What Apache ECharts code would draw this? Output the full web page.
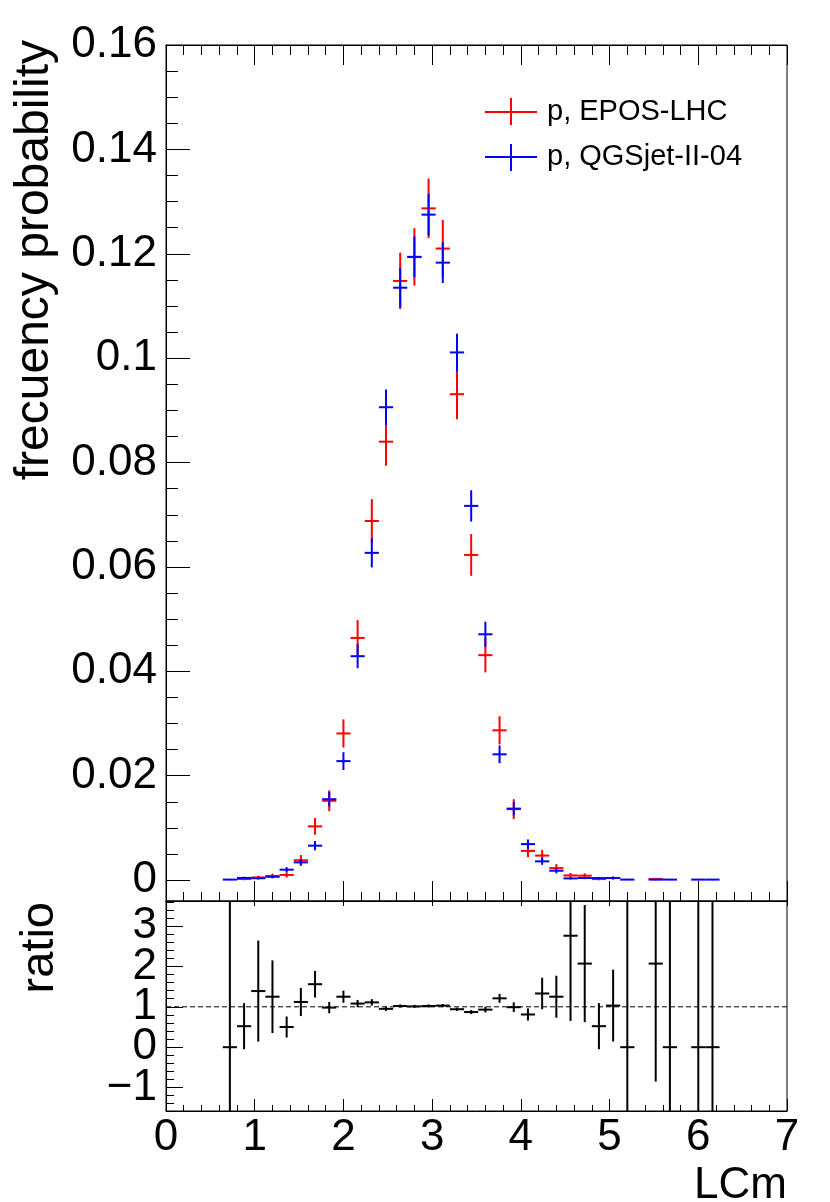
<!DOCTYPE html>
<html>
<head>
<meta charset="utf-8">
<script src="https://cdn.jsdelivr.net/npm/echarts@6/dist/echarts.min.js"></script>
<style>
html,body{margin:0;padding:0;background:#fff;}
#chart{width:830px;height:1202px;}
</style>
</head>
<body>
<div id="chart"></div>
<script>
// ---- data ----
const binCenters = [0.72,0.88,1.04,1.20,1.36,1.52,1.68,1.84,2.00,2.16,2.32,2.48,2.64,2.80,2.96,3.12,3.28,3.44,3.60,3.76,3.92,4.08,4.24,4.40,4.56,4.72,4.88,5.04,5.20,5.36,5.52,5.68,5.84,6.00,6.16];
const binHalfWidth = 0.08;
const eposValues = [null,0.00022,0.0005,0.0008,0.0010,0.0038,0.0103,0.0152,0.0281,0.0464,0.0688,0.0840,0.1148,0.1194,0.1287,0.1210,0.0931,0.0623,0.0431,0.0287,0.0136,0.0056,0.0047,0.0023,0.0009,0.00085,0.0002,0.0004,null,null,0.0002,null,null,null,null];
const eposErrors = [null,0.00024,0.00036,0.00045,0.0005,0.001,0.0016,0.002,0.0027,0.0034,0.0042,0.0046,0.0054,0.0055,0.0057,0.0055,0.0048,0.004,0.0033,0.0027,0.0019,0.0012,0.0011,0.00076,0.00048,0.00046,0.00022,0.00032,null,null,0.00022,null,null,null,null];
const qgsValues = [0.0001,0.00042,0.00036,0.00064,0.0020,0.0034,0.0066,0.0155,0.0228,0.0429,0.0627,0.0906,0.1135,0.1194,0.1275,0.1183,0.1011,0.0717,0.0471,0.0241,0.0137,0.0069,0.0036,0.0018,0.00033,0.00041,0.0004,0.0004,0.0001,null,0.0001,0.0001,null,0.0001,0.0001];
const qgsErrors = [0.00011,0.00023,0.00021,0.00028,0.0005,0.00065,0.0009,0.0014,0.0017,0.0023,0.0028,0.0034,0.0038,0.0039,0.004,0.0039,0.0036,0.003,0.0024,0.0017,0.0013,0.0009,0.00067,0.00048,0.0002,0.00023,0.00022,0.00022,0.00011,null,0.00011,0.00011,null,0.00011,0.00011];
const ratioValues = [0,0.52,1.39,1.25,0.5,1.12,1.56,0.98,1.25,1.08,1.11,0.95,1.02,1.01,1.02,1.03,0.94,0.87,0.93,1.21,0.99,0.81,1.33,1.25,2.76,2.07,0.52,1.03,0,null,2.07,0,null,0,0];
const ratioErrors = [10,0.57,1.25,0.9,0.26,0.35,0.33,0.14,0.15,0.09,0.08,0.05,0.04,0.04,0.04,0.04,0.04,0.05,0.07,0.11,0.12,0.15,0.39,0.52,2.11,1.45,0.57,0.89,10,null,2.92,10,null,10,10];
const ratioRefValue = 1;
const yTicksTop = [0,0.02,0.04,0.06,0.08,0.1,0.12,0.14,0.16];
const yTicksRatio = [-1,0,1,2,3];
const legendNames = ['p, EPOS-LHC','p, QGSjet-II-04'];
const xTitle = 'LCm';
const yTitleTop = 'frecuency probability';
const yTitleRatio = 'ratio';

// minor tick positions
const yMinorTop = [];
for (let i = 0; i <= 32; i++) if (i % 4) yMinorTop.push(+(i * 0.005).toFixed(3));
const yMinorRatio = [];
for (let i = -7; i <= 18; i++) if (i % 5) yMinorRatio.push(+(i * 0.2).toFixed(2));
// ratio labels split in two alternating sets so none gets hidden for overlap
const ratioLabelsA = yTicksRatio.filter((v, i) => i % 2 === 0);
const ratioLabelsB = yTicksRatio.filter((v, i) => i % 2 === 1);

function buildData(vals, errs) {
  const out = [];
  for (let i = 0; i < binCenters.length; i++) {
    if (vals[i] === null || vals[i] === undefined) continue;
    out.push([binCenters[i], vals[i], errs[i]]);
  }
  return out;
}

function crossRenderer(color, width) {
  return function (params, api) {
    const x = api.value(0), y = api.value(1), e = api.value(2);
    const cs = params.coordSys;
    const clampY = v => Math.max(cs.y, Math.min(cs.y + cs.height, v));
    const clampX = v => Math.max(cs.x, Math.min(cs.x + cs.width, v));
    const pl = api.coord([x - binHalfWidth, y]);
    const pr = api.coord([x + binHalfWidth, y]);
    const pt = api.coord([x, y + e]);
    const pb = api.coord([x, y - e]);
    const children = [];
    if (pl[1] >= cs.y && pl[1] <= cs.y + cs.height) {
      children.push({type: 'line', shape: {x1: clampX(pl[0]), y1: pl[1], x2: clampX(pr[0]), y2: pr[1]}, style: {stroke: color, lineWidth: width}});
    }
    children.push({type: 'line', shape: {x1: pt[0], y1: clampY(pt[1]), x2: pb[0], y2: clampY(pb[1])}, style: {stroke: color, lineWidth: width}});
    return {type: 'group', children: children};
  };
}

const FONT = 'Liberation Sans, Arial, Helvetica, sans-serif';
const chart = echarts.init(document.getElementById('chart'), null, {renderer: 'canvas'});

const gridTop = {left: 166, top: 45, width: 621, height: 856};
const gridBot = {left: 166, top: 901, width: 621, height: 210};

const baseX = {
  min: 0, max: 7, interval: 1, type: 'value',
  axisLine: {show: true, onZero: false, lineStyle: {color: '#000', width: 1}},
  splitLine: {show: false}
};
const ratioLabelStyle = {show: true, color: '#000', fontSize: 44, fontFamily: FONT, margin: 9,
  hideOverlap: false, showMinLabel: true, showMaxLabel: true,
  formatter: v => String(v).replace('-', '\u2212')};

const option = {
  animation: false,
  backgroundColor: '#fff',
  grid: [
    Object.assign({show: true, borderColor: '#000', borderWidth: 1, backgroundColor: 'transparent'}, gridTop),
    Object.assign({show: true, borderColor: '#000', borderWidth: 1, backgroundColor: 'transparent'}, gridBot)
  ],
  xAxis: [
    Object.assign({}, baseX, {gridIndex: 0, position: 'bottom',
      axisTick: {show: true, inside: true, length: 20, lineStyle: {color: '#000'}},
      minorTick: {show: true, splitNumber: 5, length: 9, lineStyle: {color: '#000'}},
      axisLabel: {show: false}}),
    Object.assign({}, baseX, {gridIndex: 0, position: 'top',
      axisTick: {show: true, inside: true, length: 20, lineStyle: {color: '#000'}},
      minorTick: {show: true, splitNumber: 5, length: 10, lineStyle: {color: '#000'}},
      axisLabel: {show: false}}),
    Object.assign({}, baseX, {gridIndex: 1, position: 'bottom',
      axisTick: {show: true, inside: true, length: 12, lineStyle: {color: '#000'}},
      minorTick: {show: true, splitNumber: 5, length: 6, lineStyle: {color: '#000'}},
      axisLabel: {show: true, color: '#000', fontSize: 44, fontFamily: FONT, margin: 5, hideOverlap: false}}),
    Object.assign({}, baseX, {gridIndex: 1, position: 'top',
      axisTick: {show: true, inside: true, length: 5, lineStyle: {color: '#000'}},
      minorTick: {show: false},
      axisLabel: {show: false}})
  ],
  yAxis: [
    {gridIndex: 0, type: 'value', min: -0.004, max: 0.16, position: 'left',
      axisLine: {show: true, onZero: false, lineStyle: {color: '#000'}},
      splitLine: {show: false},
      axisTick: {show: true, inside: true, length: 24, customValues: yTicksTop, lineStyle: {color: '#000'}},
      axisLabel: {show: true, customValues: yTicksTop, color: '#000', fontSize: 44, fontFamily: FONT, margin: 9,
        hideOverlap: false, showMinLabel: true, showMaxLabel: true, formatter: v => String(v)}},
    {gridIndex: 0, type: 'value', min: -0.004, max: 0.16, position: 'left',
      axisLine: {show: false},
      splitLine: {show: false},
      axisTick: {show: true, inside: true, length: 12, customValues: yMinorTop, lineStyle: {color: '#000'}},
      axisLabel: {show: false}},
    {gridIndex: 1, type: 'value', min: -1.58, max: 3.62, position: 'left',
      axisLine: {show: true, onZero: false, lineStyle: {color: '#000'}},
      splitLine: {show: false},
      axisTick: {show: true, inside: true, length: 17, customValues: yTicksRatio, lineStyle: {color: '#000'}},
      axisLabel: Object.assign({customValues: ratioLabelsA}, ratioLabelStyle)},
    {gridIndex: 1, type: 'value', min: -1.58, max: 3.62, position: 'left',
      axisLine: {show: false},
      splitLine: {show: false},
      axisTick: {show: true, inside: true, length: 8, customValues: yMinorRatio, lineStyle: {color: '#000'}},
      axisLabel: Object.assign({customValues: ratioLabelsB}, ratioLabelStyle)}
  ],
  series: [
    {name: legendNames[0], type: 'custom', xAxisIndex: 0, yAxisIndex: 0, clip: true,
      encode: {x: 0, y: 1}, data: buildData(eposValues, eposErrors), renderItem: crossRenderer('#ff0000', 2)},
    {name: legendNames[1], type: 'custom', xAxisIndex: 0, yAxisIndex: 0, clip: true,
      encode: {x: 0, y: 1}, data: buildData(qgsValues, qgsErrors), renderItem: crossRenderer('#0000ff', 2)},
    {name: 'ref', type: 'line', xAxisIndex: 2, yAxisIndex: 2, symbol: 'none', silent: true,
      data: [[0, ratioRefValue], [7, ratioRefValue]],
      lineStyle: {color: '#000', width: 1, type: [5, 3]}},
    {name: 'ratio', type: 'custom', xAxisIndex: 2, yAxisIndex: 2, clip: true,
      encode: {x: 0, y: 1}, data: buildData(ratioValues, ratioErrors), renderItem: crossRenderer('#000000', 2)}
  ],
  graphic: [
    {type: 'text', x: 35, y: 40, rotation: Math.PI / 2,
      style: {text: yTitleTop, fill: '#000', fontSize: 48, fontFamily: FONT, align: 'right', verticalAlign: 'middle'}},
    {type: 'text', x: 40, y: 902, rotation: Math.PI / 2,
      style: {text: yTitleRatio, fill: '#000', fontSize: 47, fontFamily: FONT, align: 'right', verticalAlign: 'middle'}},
    {type: 'text', x: 787, y: 1186,
      style: {text: xTitle, fill: '#000', fontSize: 44, fontFamily: FONT, align: 'right', verticalAlign: 'middle'}},
    // legend
    {type: 'line', shape: {x1: 485, y1: 112, x2: 537, y2: 112}, style: {stroke: '#ff0000', lineWidth: 2}},
    {type: 'line', shape: {x1: 511, y1: 98, x2: 511, y2: 125}, style: {stroke: '#ff0000', lineWidth: 2}},
    {type: 'text', x: 547, y: 112,
      style: {text: legendNames[0], fill: '#000', fontSize: 29, fontFamily: FONT, align: 'left', verticalAlign: 'middle'}},
    {type: 'line', shape: {x1: 485, y1: 157, x2: 537, y2: 157}, style: {stroke: '#0000ff', lineWidth: 2}},
    {type: 'line', shape: {x1: 511, y1: 144, x2: 511, y2: 171}, style: {stroke: '#0000ff', lineWidth: 2}},
    {type: 'text', x: 547, y: 157,
      style: {text: legendNames[1], fill: '#000', fontSize: 29, fontFamily: FONT, align: 'left', verticalAlign: 'middle'}}
  ]
};
chart.setOption(option);
</script>
</body>
</html>
